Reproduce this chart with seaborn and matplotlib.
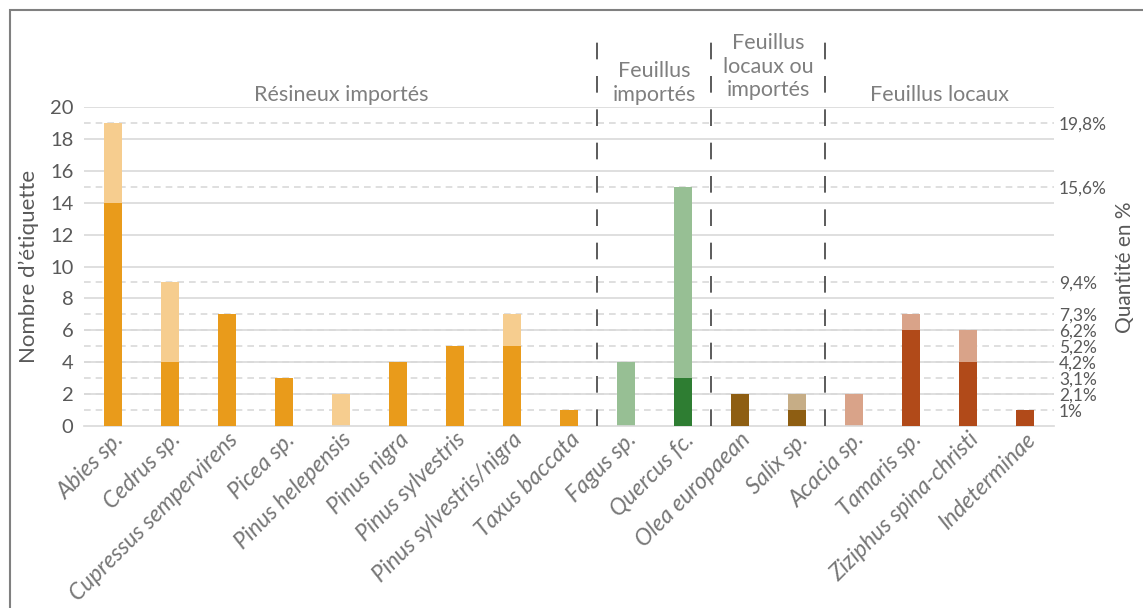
import numpy as np
import pandas as pd
import seaborn as sns
import matplotlib.pyplot as plt
from matplotlib.patches import Rectangle

# -------------------------------
# Data
# -------------------------------
species = [
    "Abies sp.", "Cedrus sp.", "Cupressus sempervirens", "Picea sp.",
    "Pinus helepensis", "Pinus nigra", "Pinus sylvestris",
    "Pinus sylvestris/nigra", "Taxus baccata", "Fagus sp.", "Quercus fc.",
    "Olea europaean", "Salix sp.", "Acacia sp.", "Tamaris sp.",
    "Ziziphus spina-christi", "Indeterminae",
]
total = [19, 9, 7, 3, 2, 4, 5, 7, 1, 4, 15, 2, 2, 2, 7, 6, 1]
certain = [14, 4, 7, 3, 0, 4, 5, 5, 1, 0, 3, 2, 1, 0, 6, 4, 1]
group = [0] * 9 + [1] * 2 + [2] * 2 + [3] * 4
group_names = [
    "Résineux importés",
    "Feuillus\nimportés",
    "Feuillus\nlocaux ou\nimportés",
    "Feuillus locaux",
]
pct_counts = [1, 2, 3, 4, 5, 6, 7, 9, 15, 19]
pct_labels = ["1%", "2,1%", "3,1%", "4,2%", "5,2%", "6,2%", "7,3%",
              "9,4%", "15,6%", "19,8%"]

dark_colors = ["#E99B1B", "#2E7D32", "#8E5E12", "#B14A19"]
light_colors = ["#F6CD8F", "#97BF94", "#C6AD86", "#D9A389"]

df = pd.DataFrame({"species": species, "total": total,
                   "certain": certain, "group": group})

# -------------------------------
# Style
# -------------------------------
sns.set_theme(style="white")
plt.rcParams["font.family"] = ["Lato", "DejaVu Sans"]
txt = "#595959"

fig = plt.figure(figsize=(11.43, 6.08), dpi=100)
ax = fig.add_axes([0.0739, 0.2993, 0.8478, 0.5247])

light_pal = {s: light_colors[g] for s, g in zip(species, group)}
dark_pal = {s: dark_colors[g] for s, g in zip(species, group)}

sns.barplot(data=df, x="species", y="total", hue="species",
            palette=light_pal, legend=False, width=0.3, saturation=1,
            linewidth=0, edgecolor="none", ax=ax, zorder=2)
sns.barplot(data=df, x="species", y="certain", hue="species",
            palette=dark_pal, legend=False, width=0.3, saturation=1,
            linewidth=0, edgecolor="none", ax=ax, zorder=3)

ax.set_xlim(-0.5, len(species) - 0.5)
ax.set_ylim(0, 20)
ax.set_yticks(range(0, 21, 2))
ax.tick_params(axis="y", labelsize=14.5, colors=txt, length=0, pad=8)
ax.tick_params(axis="x", length=0, pad=2)
ax.set_xticks(range(len(species)))
ax.set_xticklabels(species, rotation=45, ha="right", rotation_mode="anchor",
                   fontsize=16.5, style="italic", color="#767676")

# solid grid on even counts, dashed lines at the percentage levels
for y in range(2, 21, 2):
    ax.axhline(y, color="#D9D9D9", lw=1.2, zorder=0.5)
for y in pct_counts:
    ax.axhline(y, color="#D9D9D9", lw=1.2, ls=(0, (4, 3)), zorder=0.4)

for side in ["top", "right", "left"]:
    ax.spines[side].set_visible(False)
ax.spines["bottom"].set_color("#D9D9D9")
ax.spines["bottom"].set_linewidth(1.2)

ax.set_xlabel("")
ax.set_ylabel("Nombre d\u2019étiquette", fontsize=16, color=txt, labelpad=8)

# secondary axis with the percentages
ax2 = ax.twinx()
ax2.set_ylim(0, 20)
ax2.set_yticks(pct_counts)
ax2.set_yticklabels(pct_labels)
ax2.tick_params(axis="y", labelsize=12.5, colors=txt, length=0, pad=4)
for side in ["top", "right", "left", "bottom"]:
    ax2.spines[side].set_visible(False)
fig.text(1125 / 1143, 1 - 267 / 608, "Quantité en %", fontsize=15,
         color=txt, rotation=90, ha="center", va="center")

# group separators and group labels
grp = np.array(group)
for g in range(1, len(group_names)):
    x_sep = np.where(grp == g)[0][0] - 0.5
    ax.plot([x_sep, x_sep], [0, 24.1], color="#404040", lw=1.2,
            ls=(0, (10, 10)), clip_on=False, zorder=4)

for g, name in enumerate(group_names):
    idx = np.where(grp == g)[0]
    xc = (idx[0] + idx[-1]) / 2
    yb = 20.45 if name.count("\n") == 2 else 20.15
    ax.text(xc, yb, name, ha="center", va="bottom", fontsize=15.5,
            color="#7F7F7F", linespacing=1.2, multialignment="center",
            clip_on=False)

# chart border
fig.add_artist(Rectangle((10 / 1143, -0.05), 1.1, 0.05 + 1 - 10 / 608,
                         transform=fig.transFigure, fill=False,
                         edgecolor="#808080", lw=1.5))

fig.savefig("out.png", dpi=100)
